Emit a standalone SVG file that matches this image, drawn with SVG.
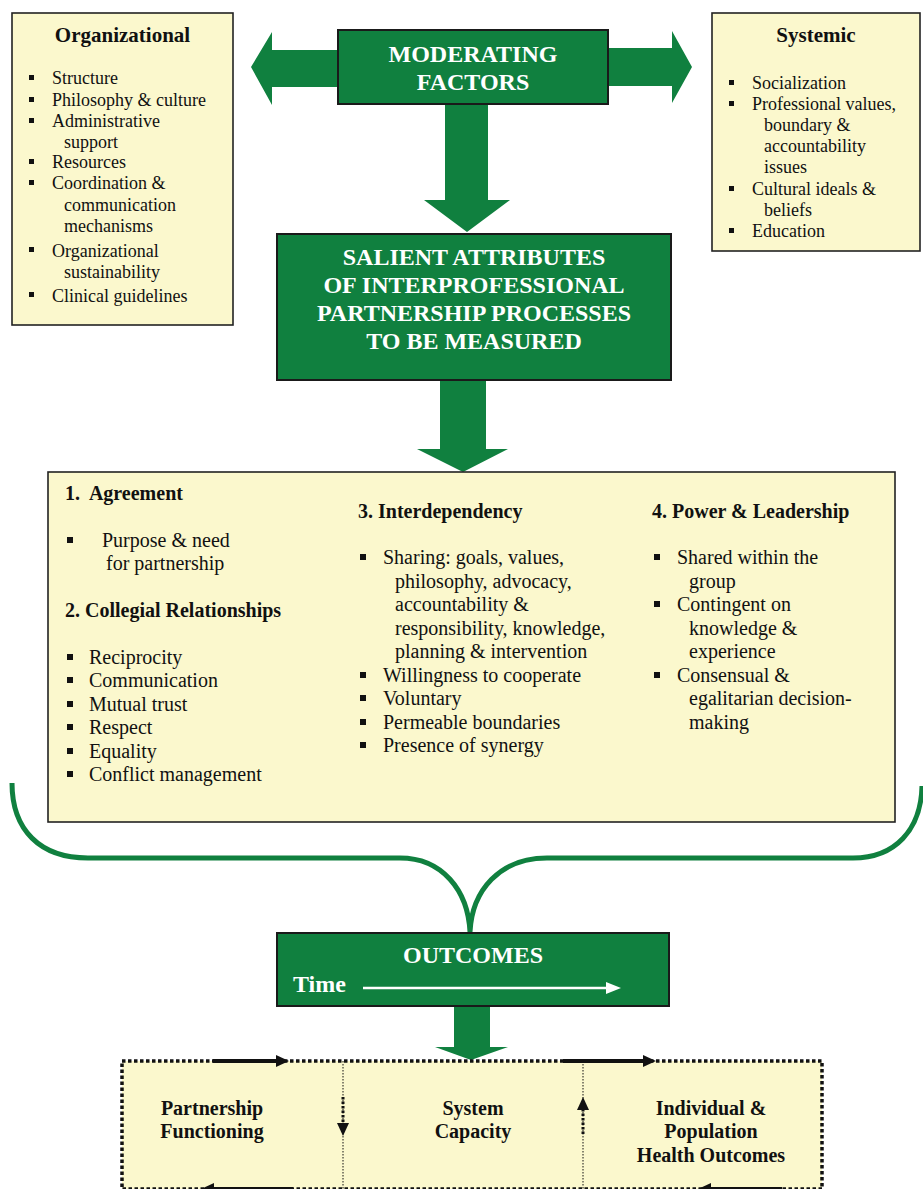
<svg xmlns="http://www.w3.org/2000/svg" width="923" height="1189" viewBox="0 0 923 1189">
<defs>
<style>
.yb{fill:#fbf8cd;stroke:#222;stroke-width:1.6}
.gb{fill:#10803f;stroke:#1a1a1a;stroke-width:2}
.ga{fill:#10803f}
.t{font-family:"Liberation Serif","Times New Roman",serif;fill:#111}
.s18{font-size:18px}
.s20{font-size:20px}
.hb{font-weight:bold}
.wt{font-family:"Liberation Serif","Times New Roman",serif;fill:#fff;font-weight:bold;font-size:24px;text-anchor:middle}
.wl{font-family:"Liberation Serif","Times New Roman",serif;fill:#fff;font-weight:bold;font-size:24px;text-anchor:start}
.bt{font-family:"Liberation Serif","Times New Roman",serif;fill:#111;font-weight:bold;font-size:20px;text-anchor:middle}
</style>
<rect id="b5" width="5" height="5" fill="#111"/>
<rect id="b6" width="6" height="6" fill="#111"/>
</defs>

<g id="connectors">
<polygon class="ga" points="338,50 272,50 272,32 251,67 272,105 272,87 338,87"/>
<polygon class="ga" points="608,48 672,48 672,31 692,67 672,103 672,86 608,86"/>
<polygon class="ga" points="445,104 488,104 488,200 510,200 467,232 424,200 445,200"/>
<polygon class="ga" points="440,380 486,380 486,449 508,449 463,472 417,449 440,449"/>
<path d="M12,783 C12,830 40,858 88,858 L400,858 C442,858 468,890 470,932 C472,890 500,858 547,858 L853,858 C895,858 921,830 922,786" fill="none" stroke="#10803f" stroke-width="5"/>
<polygon class="ga" points="454,1006 490,1006 490,1047 508,1047 471,1060 435,1047 454,1047"/>
</g>

<g id="organizational">
<rect class="yb" x="12" y="13" width="221" height="312"/>
<text class="t hb" x="122.5" y="42" font-size="21" text-anchor="middle">Organizational</text>
<g class="t s18">
<text x="52" y="84">Structure</text>
<text x="52" y="106">Philosophy &amp; culture</text>
<text x="52" y="127">Administrative</text>
<text x="64" y="148">support</text>
<text x="52" y="168">Resources</text>
<text x="52" y="189">Coordination &amp;</text>
<text x="64" y="211">communication</text>
<text x="64" y="232">mechanisms</text>
<text x="52" y="257">Organizational</text>
<text x="64" y="278">sustainability</text>
<text x="52" y="302">Clinical guidelines</text>
</g>
<use href="#b5" x="29" y="75"/>
<use href="#b5" x="29" y="97"/>
<use href="#b5" x="29" y="118"/>
<use href="#b5" x="29" y="159"/>
<use href="#b5" x="29" y="180"/>
<use href="#b5" x="29" y="247"/>
<use href="#b5" x="29" y="292"/>
</g>

<g id="systemic">
<rect class="yb" x="712" y="13" width="208" height="238"/>
<text class="t hb" x="816" y="42" font-size="21" text-anchor="middle">Systemic</text>
<g class="t s18">
<text x="752" y="89">Socialization</text>
<text x="752" y="110">Professional values,</text>
<text x="764" y="131">boundary &amp;</text>
<text x="764" y="152">accountability</text>
<text x="764" y="173">issues</text>
<text x="752" y="195">Cultural ideals &amp;</text>
<text x="764" y="216">beliefs</text>
<text x="752" y="237">Education</text>
</g>
<use href="#b5" x="729" y="80"/>
<use href="#b5" x="729" y="101"/>
<use href="#b5" x="729" y="186"/>
<use href="#b5" x="729" y="228"/>
</g>

<g id="moderating">
<rect class="gb" x="338" y="30" width="270" height="74"/>
<text class="wt" x="473" y="62">MODERATING</text>
<text class="wt" x="473" y="90">FACTORS</text>
</g>

<g id="salient">
<rect class="gb" x="277" y="234" width="394" height="146"/>
<text class="wt" x="474" y="265">SALIENT ATTRIBUTES</text>
<text class="wt" x="474" y="293">OF INTERPROFESSIONAL</text>
<text class="wt" x="474" y="321">PARTNERSHIP PROCESSES</text>
<text class="wt" x="474" y="349">TO BE MEASURED</text>
</g>

<g id="attributes">
<rect class="yb" x="48" y="472" width="847" height="350"/>
<g class="t s20">
<text class="hb" x="65" y="500" xml:space="preserve">1.  Agreement</text>
<text x="102" y="547">Purpose &amp; need</text>
<text x="106" y="570">for partnership</text>
<text class="hb" x="65" y="617">2. Collegial Relationships</text>
<text x="89" y="664">Reciprocity</text>
<text x="89" y="687">Communication</text>
<text x="89" y="711">Mutual trust</text>
<text x="89" y="734">Respect</text>
<text x="89" y="758">Equality</text>
<text x="89" y="781">Conflict management</text>

<text class="hb" x="358" y="518">3. Interdependency</text>
<text x="383" y="564">Sharing: goals, values,</text>
<text x="395" y="588">philosophy, advocacy,</text>
<text x="395" y="611">accountability &amp;</text>
<text x="395" y="635">responsibility, knowledge,</text>
<text x="395" y="658">planning &amp; intervention</text>
<text x="383" y="682">Willingness to cooperate</text>
<text x="383" y="705">Voluntary</text>
<text x="383" y="729">Permeable boundaries</text>
<text x="383" y="752">Presence of synergy</text>

<text class="hb" x="652" y="518">4. Power &amp; Leadership</text>
<text x="677" y="564">Shared within the</text>
<text x="689" y="588">group</text>
<text x="677" y="611">Contingent on</text>
<text x="689" y="635">knowledge &amp;</text>
<text x="689" y="658">experience</text>
<text x="677" y="682">Consensual &amp;</text>
<text x="689" y="705">egalitarian decision-</text>
<text x="689" y="729">making</text>
</g>
<use href="#b6" x="67" y="537"/>
<use href="#b6" x="67" y="654"/>
<use href="#b6" x="67" y="677"/>
<use href="#b6" x="67" y="701"/>
<use href="#b6" x="67" y="724"/>
<use href="#b6" x="67" y="748"/>
<use href="#b6" x="67" y="771"/>
<use href="#b6" x="360" y="554"/>
<use href="#b6" x="360" y="672"/>
<use href="#b6" x="360" y="695"/>
<use href="#b6" x="360" y="719"/>
<use href="#b6" x="360" y="742"/>
<use href="#b6" x="654" y="554"/>
<use href="#b6" x="654" y="601"/>
<use href="#b6" x="654" y="672"/>
</g>

<g id="outcomes">
<rect class="gb" x="277" y="933" width="392" height="73"/>
<text class="wt" x="473" y="963">OUTCOMES</text>
<text class="wl" x="293" y="992">Time</text>
<line x1="363" y1="988" x2="608" y2="988" stroke="#fff" stroke-width="2.5"/>
<polygon points="606,982 621,988 606,994" fill="#fff"/>
</g>

<g id="stages">
<rect x="122" y="1061" width="700" height="128" fill="#fbf8cd" stroke="#111" stroke-width="3.5" stroke-dasharray="3.5 2.5"/>
<line x1="343" y1="1061" x2="343" y2="1189" stroke="#111" stroke-width="1" stroke-dasharray="1.5 1.5"/>
<line x1="583" y1="1061" x2="583" y2="1189" stroke="#111" stroke-width="1" stroke-dasharray="1.5 1.5"/>
<line x1="213" y1="1061" x2="278" y2="1061" stroke="#111" stroke-width="4"/>
<polygon points="276,1055 289,1061 276,1067" fill="#111"/>
<line x1="563" y1="1061" x2="645" y2="1061" stroke="#111" stroke-width="4"/>
<polygon points="643,1055 656,1061 643,1067" fill="#111"/>
<line x1="212" y1="1189" x2="293" y2="1189" stroke="#111" stroke-width="4"/>
<polygon points="214,1183 201,1189 214,1195" fill="#111"/>
<line x1="710" y1="1189" x2="782" y2="1189" stroke="#111" stroke-width="4"/>
<polygon points="711,1183 698,1189 711,1195" fill="#111"/>
<line x1="343" y1="1097" x2="343" y2="1124" stroke="#111" stroke-width="3" stroke-dasharray="2.5 2"/>
<polygon points="337,1123 349,1123 343,1136" fill="#111"/>
<line x1="583" y1="1109" x2="583" y2="1136" stroke="#111" stroke-width="3" stroke-dasharray="2.5 2"/>
<polygon points="577,1110 589,1110 583,1097" fill="#111"/>
<text class="bt" x="212" y="1115">Partnership</text>
<text class="bt" x="212" y="1138">Functioning</text>
<text class="bt" x="473" y="1115">System</text>
<text class="bt" x="473" y="1138">Capacity</text>
<text class="bt" x="711" y="1115">Individual &amp;</text>
<text class="bt" x="711" y="1138">Population</text>
<text class="bt" x="711" y="1162">Health Outcomes</text>
</g>
</svg>
